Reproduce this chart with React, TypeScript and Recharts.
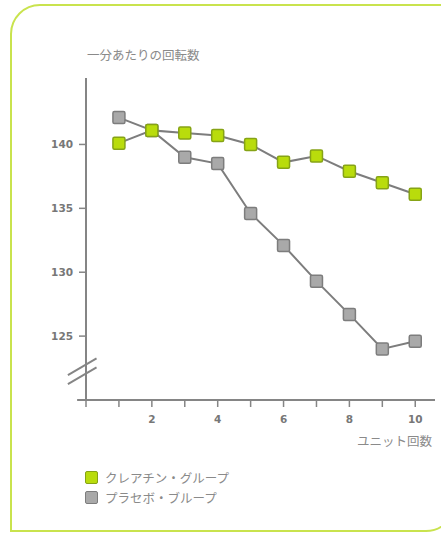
import * as React from 'react';
import { LineChart, Line, XAxis, YAxis, ReferenceLine } from 'recharts';

// unit number 1..10
const units = [1, 2, 3, 4, 5, 6, 7, 8, 9, 10];
// revolutions per minute, creatine group
const creatine = [140.1, 141.1, 140.9, 140.7, 140.0, 138.6, 139.1, 137.9, 137.0, 136.1];
// revolutions per minute, placebo group
const placebo = [142.1, 141.1, 139.0, 138.5, 134.6, 132.1, 129.3, 126.7, 124.0, 124.6];

const xTicks = [0, 1, 2, 3, 4, 5, 6, 7, 8, 9, 10];
const yTicks = [125, 130, 135, 140];

const yTitle = '一分あたりの回転数';
const xTitle = 'ユニット回数';
const legendNames = ['クレアチン・グループ', 'プラセボ・ブループ'];

const GREEN = '#b9dc0c';
const GREEN_EDGE = '#86a316';
const GREY = '#a9a9a9';
const GREY_EDGE = '#7d7d7d';
const AXIS = '#858585';

const data = units.map((u, i) => ({ unit: u, creatine: creatine[i], placebo: placebo[i] }));

const SquareDot = (fill: string, edge: string) => (props: any) => {
  const { cx, cy, index } = props;
  if (cx == null || cy == null) return null;
  return (
    <rect
      key={index}
      x={cx - 6}
      y={cy - 6}
      width={12}
      height={12}
      rx={1.5}
      fill={fill}
      stroke={edge}
      strokeWidth={1.5}
    />
  );
};

const jpFont = '"Noto Sans CJK JP", sans-serif';
const numFont = '"DejaVu Sans", sans-serif';

export default function App() {
  return (
    <div
      style={{
        position: 'fixed',
        left: 0,
        top: 0,
        width: 441,
        height: 534,
        overflow: 'hidden',
        background: '#fff'
      }}
    >
      <div
        style={{
          position: 'absolute',
          left: 10,
          top: 4,
          width: 446,
          height: 528,
          border: '2px solid #c9e34e',
          borderRadius: '30px 0 30px 0',
          boxSizing: 'border-box'
        }}
      />
      <div
        style={{
          position: 'absolute',
          left: 87,
          top: 45,
          fontFamily: jpFont,
          fontSize: 12.5,
          color: '#8a8a8a'
        }}
      >
        {yTitle}
      </div>
      <div
        style={{
          position: 'absolute',
          left: 357,
          top: 431,
          fontFamily: jpFont,
          fontSize: 12.5,
          color: '#8a8a8a'
        }}
      >
        {xTitle}
      </div>
      {legendNames.map((name, i) => (
        <div
          key={name}
          style={{
            position: 'absolute',
            left: 85,
            top: 468 + i * 20,
            display: 'flex',
            alignItems: 'center',
            fontFamily: jpFont,
            fontSize: 12.5,
            color: '#8a8a8a'
          }}
        >
          <span
            style={{
              display: 'inline-block',
              width: 11,
              height: 11,
              borderRadius: 2,
              background: i === 0 ? GREEN : GREY,
              border: `1.5px solid ${i === 0 ? GREEN_EDGE : GREY_EDGE}`,
              marginRight: 7
            }}
          />
          {name}
        </div>
      ))}
      <div style={{ position: 'absolute', left: 0, top: 0 }}>
        <LineChart
          width={441}
          height={534}
          data={data}
          margin={{ top: 78, right: 6, bottom: 104, left: 0 }}
        >
          <XAxis
            type="number"
            dataKey="unit"
            domain={[0, 10.6]}
            ticks={xTicks}
            interval={0}
            height={30}
            allowDataOverflow
            axisLine={{ stroke: AXIS, strokeWidth: 2 }}
            tickLine={{ stroke: AXIS, strokeWidth: 1.5 }}
            tickSize={7}
            tickMargin={9}
            tick={{ fill: '#777', fontSize: 10.5, fontFamily: numFont, fontWeight: 'bold' }}
            tickFormatter={(v: number) => (v > 0 && v % 2 === 0 ? String(v) : '')}
          />
          <YAxis
            type="number"
            domain={[120, 145.2]}
            ticks={yTicks}
            interval={0}
            width={86}
            allowDataOverflow
            axisLine={{ stroke: AXIS, strokeWidth: 2 }}
            tickLine={{ stroke: AXIS, strokeWidth: 1.5 }}
            tickSize={7}
            tickMargin={6}
            tick={{ fill: '#777', fontSize: 10.5, fontFamily: numFont, fontWeight: 'bold' }}
          />
          {/* x axis runs a little past the y axis on the left */}
          <ReferenceLine
            segment={[{ x: -0.27, y: 120 }, { x: 0, y: 120 }]}
            stroke={AXIS}
            strokeWidth={2}
            ifOverflow="visible"
          />
          {/* axis break marks */}
          <ReferenceLine
            segment={[{ x: -0.55, y: 121.95 }, { x: 0.32, y: 123.25 }]}
            stroke={AXIS}
            strokeWidth={2}
            ifOverflow="visible"
          />
          <ReferenceLine
            segment={[{ x: -0.55, y: 121.25 }, { x: 0.32, y: 122.55 }]}
            stroke={AXIS}
            strokeWidth={2}
            ifOverflow="visible"
          />
          <Line
            type="linear"
            dataKey="placebo"
            stroke={GREY_EDGE}
            strokeWidth={2}
            dot={SquareDot(GREY, GREY_EDGE)}
            activeDot={false}
            isAnimationActive={false}
          />
          <Line
            type="linear"
            dataKey="creatine"
            stroke={GREY_EDGE}
            strokeWidth={2}
            dot={SquareDot(GREEN, GREEN_EDGE)}
            activeDot={false}
            isAnimationActive={false}
          />
        </LineChart>
      </div>
    </div>
  );
}
